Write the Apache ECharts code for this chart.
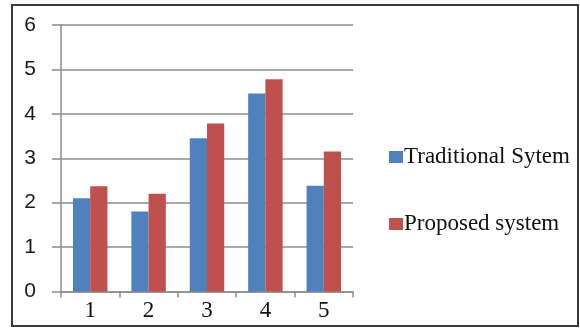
<!DOCTYPE html>
<html><head><meta charset="utf-8">
<script src="https://cdn.jsdelivr.net/npm/echarts@6/dist/echarts.min.js"></script>
<style>html,body{margin:0;padding:0;background:#fff}#c{width:580px;height:329px}</style>
</head><body><div id="c"></div>
<script>
var categories = ['1','2','3','4','5'];
var traditional = [2.1, 1.8, 3.45, 4.46, 2.38];
var proposed = [2.37, 2.2, 3.78, 4.78, 3.15];
var seriesNames = ['Traditional Sytem', 'Proposed system'];
var chart = echarts.init(document.getElementById('c'), null, {renderer:'canvas'});
var axisColor = '#8c8c8c';
var serif = 'Liberation Serif';
chart.setOption({
  animation:false,
  backgroundColor:'#fff',
  graphic:[{type:'rect', shape:{x:12, y:5, width:566, height:321}, style:{fill:'none', stroke:'#3a3a3a', lineWidth:2}}],
  grid:{left:61, right:227, top:25, bottom:37.5},
  legend:{
    orient:'vertical', left:384, top:139, itemWidth:14, itemHeight:12, itemGap:41,
    icon:'rect',
    textStyle:{fontFamily:serif, fontSize:23, color:'#111', lineHeight:26, padding:[0,0,0,-4]},
    data:seriesNames
  },
  xAxis:{
    type:'category', data:categories,
    axisLine:{lineStyle:{color:axisColor, width:1.5}},
    axisTick:{show:true, length:6, lineStyle:{color:axisColor, width:1.5}},
    axisLabel:{fontFamily:serif, fontSize:23, color:'#111', margin:8}
  },
  yAxis:{
    type:'value', min:0, max:6, interval:1,
    axisLine:{show:true, lineStyle:{color:axisColor, width:1.5}},
    axisTick:{show:true, length:9, lineStyle:{color:axisColor, width:1.5}},
    axisLabel:{fontFamily:'Liberation Sans Narrow, Liberation Sans, sans-serif', fontSize:21, color:'#1a1a1a', margin:25},
    splitLine:{lineStyle:{color:axisColor, width:1.5}}
  },
  series:[
    {name:seriesNames[0], type:'bar', data:traditional, itemStyle:{color:'#4f81bd'}, barGap:'0%', barCategoryGap:'41%'},
    {name:seriesNames[1], type:'bar', data:proposed, itemStyle:{color:'#c0504d'}}
  ]
});
</script></body></html>
